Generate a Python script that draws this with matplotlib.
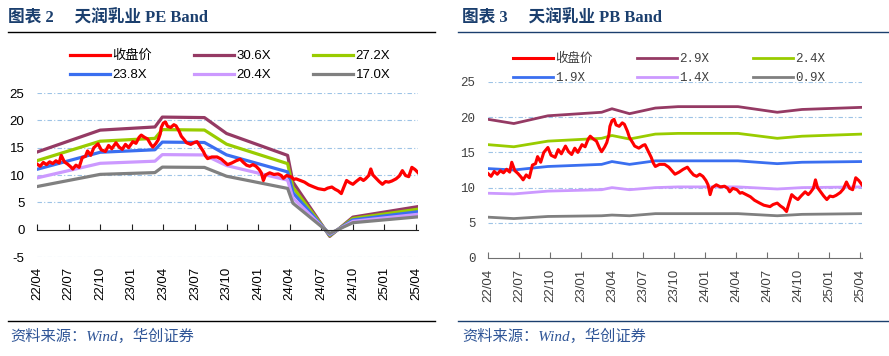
import numpy as np
import matplotlib
matplotlib.use("Agg")
import matplotlib.pyplot as plt

# months since 2022/04
price_m = [0.0, 0.3, 0.6, 0.9, 1.2, 1.5, 1.8, 2.1, 2.3, 2.6, 2.9, 3.2, 3.4, 3.7, 4.0, 4.3, 4.6,
           4.8, 5.1, 5.4, 5.8, 6.1, 6.5, 6.8, 7.1, 7.5, 7.8, 8.1, 8.4, 8.7, 9.1, 9.4, 9.7, 9.9,
           10.2, 10.5, 10.8, 11.0, 11.3, 11.5, 11.7, 11.8, 12.0, 12.2, 12.4, 12.7, 13.0, 13.2,
           13.5, 13.7, 14.0, 14.2, 14.6, 15.0, 15.2, 15.5, 15.8, 16.0, 16.2, 16.6, 17.1, 17.5,
           17.8, 18.1, 18.5, 18.9, 19.3, 19.6, 19.9, 20.2, 20.5, 20.8, 21.1, 21.3, 21.5, 21.7,
           22.1, 22.5, 22.9, 23.2, 23.4, 23.7, 24.1, 24.4, 24.6, 25.0, 25.4, 25.8, 26.3, 26.7,
           27.0, 27.3, 27.6, 28.0, 28.3, 28.6, 28.9, 29.1, 29.4, 29.7, 30.0, 30.3, 30.7, 31.0,
           31.2, 31.5, 31.7, 31.9, 32.2, 32.5, 32.8, 33.1, 33.4, 33.7, 34.1, 34.4, 34.7, 35.0,
           35.3, 35.6, 35.9, 36.2]
price = [12.0, 11.6, 12.3, 11.9, 12.4, 12.1, 12.6, 12.2, 13.6, 12.4, 12.0, 11.5, 11.1, 11.8, 11.4,
         13.2, 13.4, 14.4, 13.6, 15.0, 15.7, 14.6, 14.3, 15.4, 14.8, 15.9, 15.1, 14.7, 15.6, 15.0,
         16.1, 15.8, 16.9, 17.3, 16.9, 16.6, 15.6, 15.1, 15.8, 16.4, 17.5, 18.7, 19.5, 19.7, 18.9,
         18.7, 19.2, 19.0, 18.0, 17.1, 16.4, 15.9, 15.6, 16.0, 16.1, 15.2, 14.3, 13.5, 13.0, 13.3,
         13.3, 12.9, 12.4, 11.9, 12.2, 12.6, 12.9, 12.3, 11.8, 11.6, 11.9, 11.6, 11.0, 10.4, 9.0,
         10.0, 10.4, 10.1, 10.2, 9.9, 9.4, 9.9, 9.7, 9.2, 9.3, 9.0, 8.7, 8.2, 7.8, 7.5, 7.4, 7.3,
         7.6, 7.8, 7.4, 7.1, 6.6, 7.6, 9.0, 8.6, 8.3, 8.8, 9.4, 9.0, 9.3, 9.9, 11.1, 10.0, 9.4,
         8.8, 8.3, 8.8, 8.7, 8.9, 9.3, 9.8, 10.8, 9.9, 9.7, 11.4, 11.0, 10.4]

# PE band: EPS nodes x multiples
eps_m = [0, 6.0, 11.2, 11.9, 15.9, 18.0, 23.8, 24.3, 27.8, 30.0, 36.1]
eps = [0.464, 0.595, 0.614, 0.673, 0.670, 0.575, 0.444, 0.285, -0.04, 0.075, 0.137]
pe_mult = [30.6, 27.2, 23.8, 20.4, 17.0]
pe_labels = ["30.6X", "27.2X", "23.8X", "20.4X", "17.0X"]

# PB band nodes
pb_m = [0, 2.5, 5.8, 11.0, 12.0, 13.7, 16.2, 18.4, 24.2, 28.0, 30.4, 36.2]
pb_29 = [19.7, 19.1, 20.2, 20.7, 21.2, 20.5, 21.3, 21.5, 21.5, 20.7, 21.1, 21.4]
pb_24 = [16.1, 15.8, 16.6, 17.0, 17.4, 16.9, 17.6, 17.7, 17.7, 17.0, 17.3, 17.6]
pb_19 = [12.7, 12.5, 13.0, 13.3, 13.7, 13.3, 13.8, 13.8, 13.8, 13.4, 13.6, 13.7]
pb_14 = [9.2, 9.1, 9.5, 9.7, 10.0, 9.7, 10.0, 10.1, 10.1, 9.8, 10.0, 10.1]
pb_09 = [5.8, 5.6, 5.9, 6.0, 6.1, 6.0, 6.3, 6.3, 6.3, 6.0, 6.2, 6.3]
pb_labels = ["2.9X", "2.4X", "1.9X", "1.4X", "0.9X"]

tick_m = list(range(0, 37, 3))
tick_labels = ["22/04", "22/07", "22/10", "23/01", "23/04", "23/07", "23/10",
               "24/01", "24/04", "24/07", "24/10", "25/01", "25/04"]

band_colors = ["#953A64", "#99CC00", "#3A6FF0", "#CC99FF", "#808080"]
red = "#FF0000"
navy = "#1B3F6E"
grid_c = "#9DC3E6"

W, H = 889, 356
fig = plt.figure(figsize=(W / 100, H / 100), dpi=100)

def fx(px):
    return px / W

def fy(py):
    return 1 - py / H

sans = ["Liberation Sans", "Noto Sans CJK SC"]
song = ["Liberation Mono", "Noto Sans CJK SC"]
title_font = ["Liberation Serif", "Noto Sans CJK SC"]

# legend fills column by column, so reorder to get row-wise entries
leg_order = [0, 3, 1, 4, 2, 5]

# ---------- titles, rules, sources ----------
fig.text(fx(8), fy(18), "图表 2　 天润乳业 PE Band", family=title_font, weight="bold",
         fontsize=12, color=navy, va="center", ha="left")
fig.text(fx(462), fy(18), "图表 3　 天润乳业 PB Band", family=title_font, weight="bold",
         fontsize=12, color=navy, va="center", ha="left")
fig.add_artist(plt.Line2D([fx(8), fx(435)], [fy(32), fy(32)], color="black", lw=1.0))
fig.add_artist(plt.Line2D([fx(8), fx(435)], [fy(320.5), fy(320.5)], color="black", lw=1.0))
fig.add_artist(plt.Line2D([fx(458), fx(889)], [fy(32), fy(32)], color=navy, lw=1.0))
fig.add_artist(plt.Line2D([fx(458), fx(889)], [fy(320.5), fy(320.5)], color=navy, lw=1.0))
fig.text(fx(10), fy(336), "资料来源：Wind，华创证券", family=title_font, style="italic",
         fontsize=11, color="#2F5597", va="center", ha="left")
fig.text(fx(462), fy(336), "资料来源：Wind，华创证券", family=title_font, style="italic",
         fontsize=11, color="#2F5597", va="center", ha="left")

# ---------- PE chart ----------
x0, x1 = 37, 37 + 36.2 * 10.53
ax1 = fig.add_axes([fx(x0), 1 - 257 / H, (x1 - x0) / W, 164 / H])
ax1.set_xlim(0, 36.2)
ax1.set_ylim(-5, 25)
ax1.plot(price_m, price, color=red, lw=2.3, label="收盘价", zorder=3)
eps_arr = np.array(eps)
for mult, lab, c in zip(pe_mult, pe_labels, band_colors):
    ax1.plot(eps_m, eps_arr * mult, color=c, lw=2.3, label=lab, zorder=2)
for v in [25, 20, 15, 10, 5, -5]:
    ax1.axhline(v, color=grid_c, lw=0.8, ls=(0, (4, 2, 1, 2)), zorder=1)
for s in ["left", "right", "top"]:
    ax1.spines[s].set_visible(False)
ax1.spines["bottom"].set_position(("data", 0))
ax1.spines["bottom"].set_color("#202020")
ax1.set_xticks(tick_m)
ax1.set_xticklabels([])
ax1.tick_params(axis="x", direction="in", length=4, color="#202020")
for m, lab in zip(tick_m, tick_labels):
    ax1.text(m, -0.06, lab, transform=ax1.get_xaxis_transform(), rotation=90,
             ha="center", va="top", family=sans, fontsize=9.5)
ax1.set_yticks([-5, 0, 5, 10, 15, 20, 25])
ax1.set_yticklabels(["-5", "0", "5", "10", "15", "20", "25"], family=sans, fontsize=9.5)
ax1.tick_params(axis="y", length=0, pad=9)
h, l = ax1.get_legend_handles_labels()
ax1.legend([h[i] for i in leg_order], [l[i] for i in leg_order], ncol=3,
           loc="upper left", bbox_to_anchor=(fx(70), fy(50)),
           bbox_transform=fig.transFigure, frameon=False, prop={"family": sans, "size": 9.5},
           handlelength=3.0, handletextpad=0.2, columnspacing=3.2,
           labelspacing=0.5, borderpad=0, borderaxespad=0)

# ---------- PB chart ----------
x0, x1 = 488, 488 + 36.2 * 10.33
ax2 = fig.add_axes([fx(x0), 1 - 258 / H, (x1 - x0) / W, 176 / H])
ax2.set_xlim(0, 36.2)
ax2.set_ylim(0, 25)
ax2.plot(price_m, price, color=red, lw=2.2, label="收盘价", zorder=3)
for vals, lab, c in zip([pb_29, pb_24, pb_19, pb_14, pb_09], pb_labels, band_colors):
    ax2.plot(pb_m, vals, color=c, lw=2.0, label=lab, zorder=2)
for v in [25, 20, 15, 10, 5]:
    ax2.axhline(v, color=grid_c, lw=0.8, ls=(0, (4, 2, 1, 2)), zorder=1)
for s in ["left", "right", "top"]:
    ax2.spines[s].set_visible(False)
ax2.spines["bottom"].set_color("#707070")
ax2.set_xticks(tick_m)
ax2.set_xticklabels(tick_labels, rotation=90, family=sans, fontsize=9.5, color="#404040")
ax2.tick_params(axis="x", direction="in", length=4, color="#707070", pad=8)
ax2.set_yticks([0, 5, 10, 15, 20, 25])
ax2.set_yticklabels(["0", "5", "10", "15", "20", "25"], family=song, fontsize=9, color="#404040")
ax2.tick_params(axis="y", length=0, pad=9)
h, l = ax2.get_legend_handles_labels()
ax2.legend([h[i] for i in leg_order], [l[i] for i in leg_order], ncol=3,
           loc="upper left", bbox_to_anchor=(fx(513), fy(53)),
           bbox_transform=fig.transFigure, frameon=False,
           prop={"family": song, "size": 9}, labelcolor="#404040",
           handlelength=3.2, handletextpad=0.2, columnspacing=3.5,
           labelspacing=0.55, borderpad=0, borderaxespad=0)

fig.savefig("out.png", dpi=100)
